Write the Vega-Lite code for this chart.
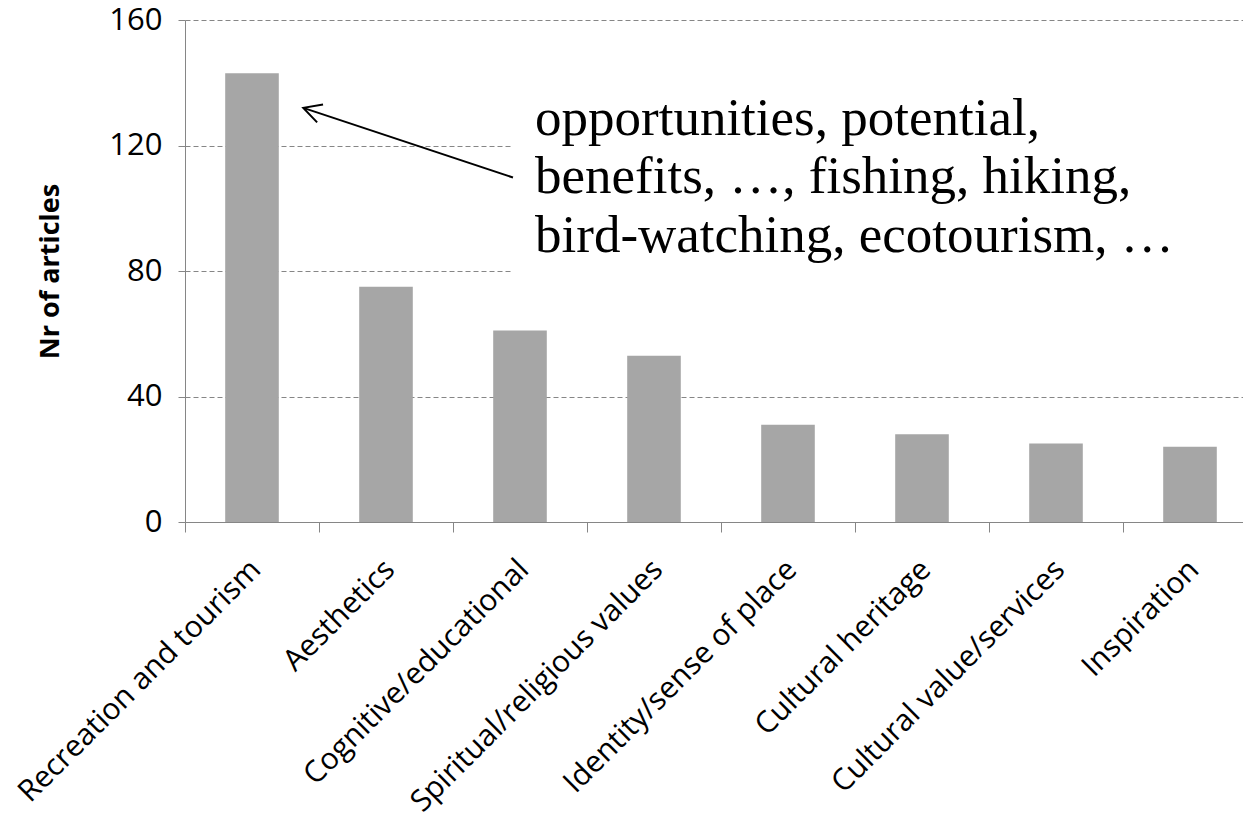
{
  "$schema": "https://vega.github.io/schema/vega-lite/v6.json",
  "width": 1058,
  "height": 502,
  "autosize": {"type": "none"},
  "padding": {"left": 185, "top": 20, "right": 0, "bottom": 291},
  "background": "white",
  "config": {"view": {"stroke": null}, "font": "Open Sans"},
  "layer": [
    {
      "data": {
        "values": [
          {"category": "Recreation and tourism", "articles": 143},
          {"category": "Aesthetics", "articles": 75},
          {"category": "Cognitive/educational", "articles": 61},
          {"category": "Spiritual/religious values", "articles": 53},
          {"category": "Identity/sense of place", "articles": 31},
          {"category": "Cultural heritage", "articles": 28},
          {"category": "Cultural value/services", "articles": 25},
          {"category": "Inspiration", "articles": 24}
        ]
      },
      "mark": {"type": "bar", "color": "#A6A6A6"},
      "encoding": {
        "x": {
          "field": "category",
          "type": "nominal",
          "sort": null,
          "scale": {
            "domain": ["Recreation and tourism", "Aesthetics", "Cognitive/educational", "Spiritual/religious values", "Identity/sense of place", "Cultural heritage", "Cultural value/services", "Inspiration"],
            "range": [0, 1072],
            "paddingInner": 0.6,
            "paddingOuter": 0.3
          },
          "axis": {
            "title": null,
            "labelAngle": -45,
            "labelFont": "Open Sans",
            "labelFontSize": 30,
            "labelColor": "black",
            "labelPadding": 22,
            "labelOffset": 60,
            "tickOffset": -67,
            "tickSize": 10,
            "tickColor": "#868686",
            "domainColor": "#868686",
            "labelLimit": 600,
            "labelOverlap": false,
            "grid": false
          }
        },
        "y": {
          "field": "articles",
          "type": "quantitative",
          "scale": {"domain": [0, 160], "nice": false},
          "axis": {
            "values": [0, 40, 80, 120, 160],
            "title": "Nr of articles",
            "titleFont": "Open Sans",
            "titleFontSize": 27,
            "titleFontWeight": "bold",
            "titleColor": "black",
            "titlePadding": 44,
            "labelFont": "Open Sans",
            "labelFontSize": 31,
            "labelColor": "black",
            "labelPadding": 16,
            "tickSize": 7,
            "tickColor": "#868686",
            "domainColor": "#868686",
            "grid": true,
            "gridColor": "#868686",
            "gridDash": [5, 3],
            "gridWidth": 1
          }
        }
      }
    },
    {
      "data": {"values": [{"part": "annotation box"}]},
      "mark": {"type": "rect", "color": "white"},
      "encoding": {
        "x": {"datum": "Cognitive/educational", "bandPosition": 0.369},
        "x2": {"datum": "Inspiration", "bandPosition": 1.75},
        "y": {"datum": 65, "type": "quantitative"},
        "y2": {"datum": 140}
      }
    },
    {
      "data": {"values": [{"part": "arrow shaft"}]},
      "mark": {"type": "rule", "color": "black", "strokeWidth": 2},
      "encoding": {
        "x": {"datum": "Cognitive/educational", "bandPosition": 0.369},
        "y": {"datum": 109.8, "type": "quantitative"},
        "x2": {"datum": "Recreation and tourism", "bandPosition": 1.457},
        "y2": {"datum": 132.0}
      }
    },
    {
      "data": {"values": [{"part": "arrow head"}]},
      "mark": {
        "type": "point",
        "shape": "M 1 -0.53 L 0 0 L 1 0.53",
        "filled": false,
        "color": "black",
        "strokeWidth": 2,
        "size": 1253,
        "angle": 18.4,
        "opacity": 1
      },
      "encoding": {
        "x": {"datum": "Recreation and tourism", "bandPosition": 1.457},
        "y": {"datum": 132.0, "type": "quantitative"}
      }
    },
    {
      "data": {"values": [{"note": "opportunities, potential,\nbenefits, …, fishing, hiking,\nbird-watching, ecotourism, …"}]},
      "mark": {
        "type": "text",
        "font": "Liberation Serif",
        "fontSize": 53,
        "align": "left",
        "baseline": "alphabetic",
        "lineBreak": "\n",
        "lineHeight": 58.5,
        "color": "black"
      },
      "encoding": {
        "x": {"datum": "Cognitive/educational", "bandPosition": 0.78},
        "y": {"datum": 123.5, "type": "quantitative"},
        "text": {"field": "note", "type": "nominal"}
      }
    }
  ]
}
